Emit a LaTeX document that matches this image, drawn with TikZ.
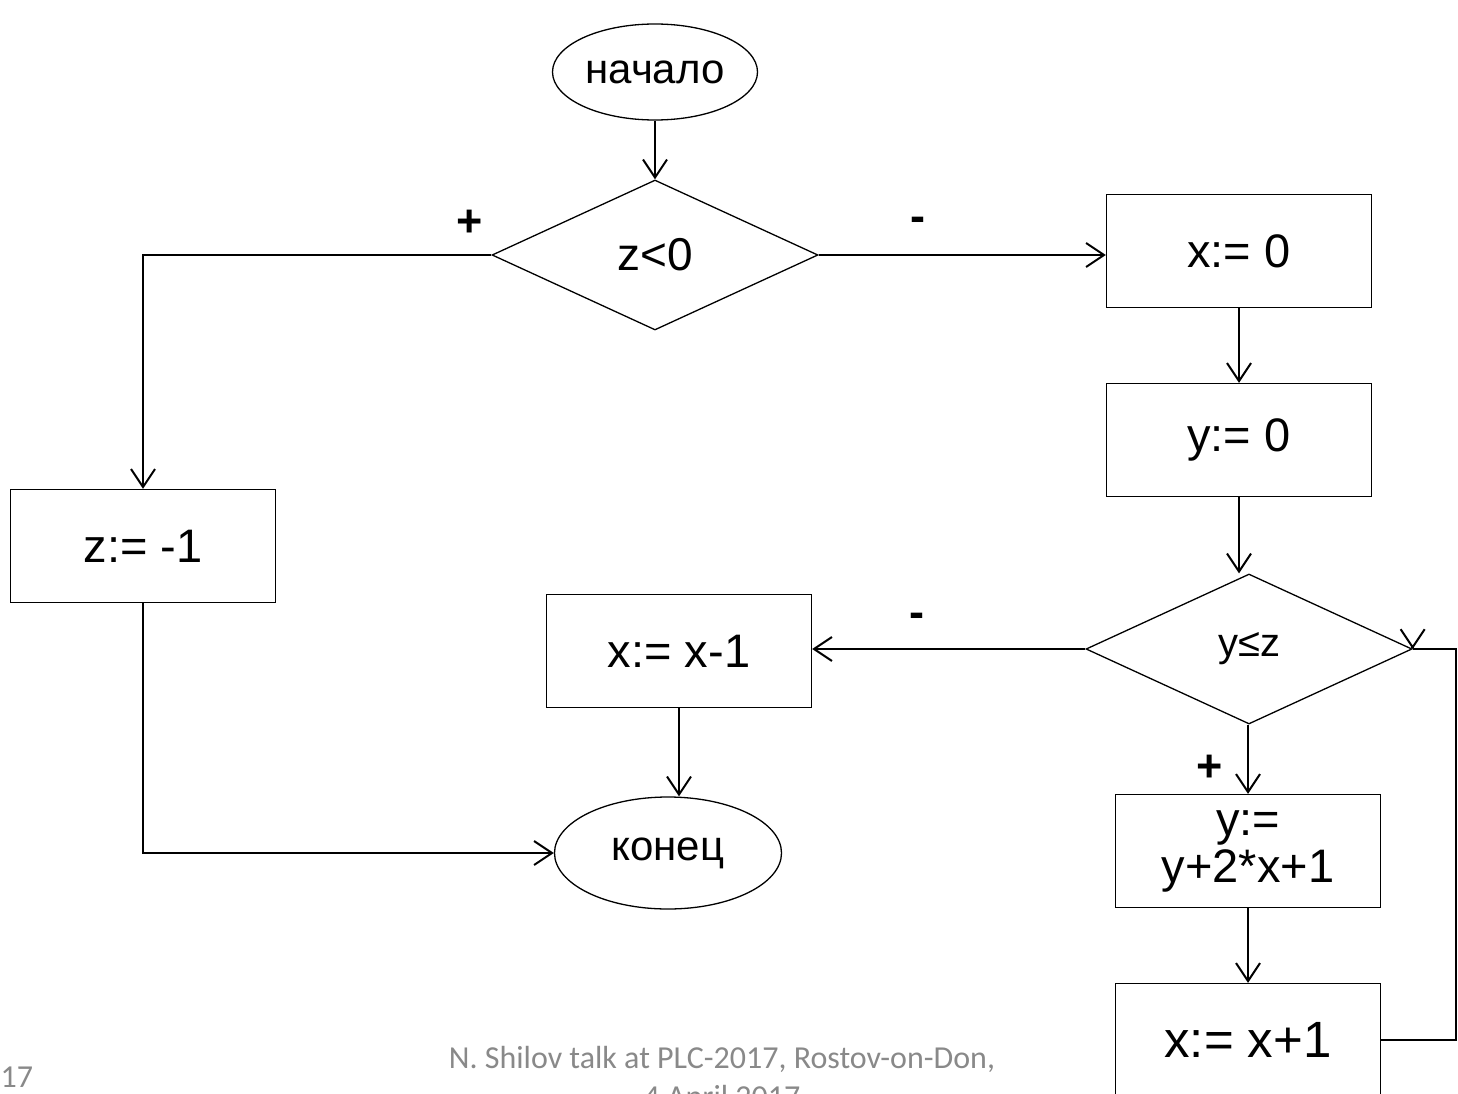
\documentclass[tikz,border=0pt]{standalone}
\usepackage{fontspec}
\setmainfont{Liberation Sans}
\newfontfamily\footfont{Carlito}
\usetikzlibrary{shapes.geometric,arrows.meta}
\definecolor{footgray}{RGB}{137,137,137}

\begin{document}
\begin{tikzpicture}[x=1pt, y=-1pt, line width=1.3pt,
  proc/.style={draw, rectangle, minimum width=265pt, minimum height=113pt,
    inner sep=0pt, align=center, font=\fontsize{47}{47}\selectfont},
  term/.style={draw, ellipse, inner sep=0pt, font=\fontsize{42}{46}\selectfont},
  cond/.style={draw, diamond, minimum width=326pt, minimum height=150pt,
    inner sep=0pt, font=\fontsize{46}{47}\selectfont},
  conn/.style={line width=2.5pt, -{Straight Barb[length=18pt,width=24pt,line width=2pt]}},
  plain/.style={line width=2.5pt},
  sign/.style={font=\bfseries\fontsize{45}{47}\selectfont},
  foot/.style={text=footgray, font=\footfont\fontsize{32}{39}\selectfont}]

\useasboundingbox (0,0) rectangle (1458,1094);
\clip (0,0) rectangle (1458,1094);

% start and first test
\node[term, minimum width=205pt, minimum height=96pt] (start) at (655,72) {начало};
\node[cond] (c1) at (655,255) {z<0};
\node[sign] (p1) at (470,223) {+};
\node[sign] (m1) at (918,224) {-};

% left branch
\node[proc] (zset) at (143,546) {z:= -1};

% right branch
\node[proc] (x0) at (1239,251) {x:= 0};
\node[proc] (y0) at (1239,440) {y:= 0};
\node[cond, font=\fontsize{40}{42}\selectfont] (c2) at (1249,649) {y≤z};
\node[sign] (m2) at (917,620) {-};
\node[sign] (p2) at (1210,768) {+};

% loop body
\node[proc] (upd) at (1248,851) {y:=\\y+2*x+1};
\node[proc, font=\fontsize{51}{51}\selectfont] (xinc) at (1248,1040) {x:= x+1};

% exit
\node[proc] (xdec) at (679,651) {x:= x-1};
\node[term, minimum width=227pt, minimum height=112pt] (stop) at (668,853) {конец};

% connectors
\draw[conn] (start) -- (c1);
\draw[conn] (c1.west) -| (zset.north);
\draw[conn] (c1.east) -- (c1.east -| x0.west);
\draw[conn] (x0) -- (y0);
\draw[conn] (y0.south) -- (y0.south |- c2.north);
\draw[conn] (c2.west) -- (c2.west -| xdec.east);
\draw[conn] (xdec.south) -- (xdec.south |- stop.north);
\draw[conn] (zset.south) |- (stop.west);
\draw[conn] (upd.north |- c2.south) -- (upd.north);
\draw[conn] (upd) -- (xinc);
\coordinate (back) at (1456,0);
\draw[plain] (xinc.east) -- (xinc.east -| back) |- (c2.east);
\draw[conn] ([yshift=1pt]c2.east) -- (c2.east);

% footer
\node[foot, align=center, anchor=base] (talk) at (722,1107)
  {N. Shilov talk at PLC-2017, Rostov-on-Don,\\4 April 2017};
\node[foot, anchor=base west, inner sep=0pt] (page) at (0,1087) {17};

\end{tikzpicture}
\end{document}
